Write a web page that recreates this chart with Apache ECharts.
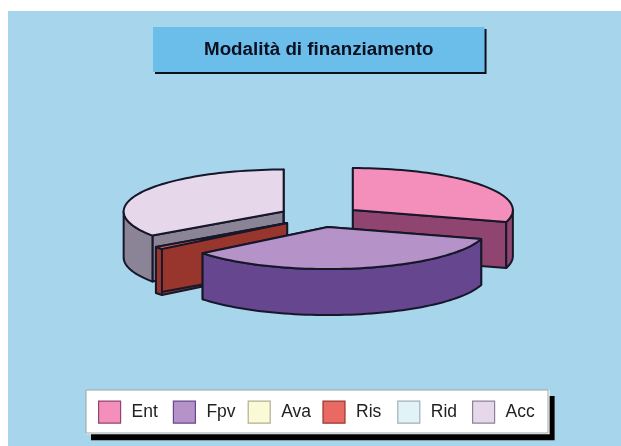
<!DOCTYPE html>
<html>
<head>
<meta charset="utf-8">
<style>
  html, body { margin: 0; padding: 0; background: #fff; }
  #chart { width: 621px; height: 446px; }
</style>
<script src="https://cdn.jsdelivr.net/npm/echarts@6/dist/echarts.min.js"></script>
</head>
<body>
<div id="chart"></div>
<script>
const categories = ['Ent', 'Fpv', 'Ava', 'Ris', 'Rid', 'Acc']
const shares = [29.6, 34.7, 0, 1.0, 0, 34.7]
const topColors = ['#f48fbb', '#b592c8', '#fafad6', '#e86a62', '#e2f3f7', '#e6d8ea']
const sideColors = ['#8f4570', '#66478f', '#b0b090', '#98362e', '#a0b0b8', '#8a8496']

// exploded pie seen from above, ECharts core has no 3d pie
const pie = { cx: 320, cy: 216.5, rx: 160, ry: 42, depth: 46, explode: 41 }
const edge = '#17172a'

const total = shares.reduce((a, b) => a + b, 0)
let running = 0
const spans = shares.map(v => {
  const start = running / total * 360
  running += v
  return [start, running / total * 360]
})

function rimPoint(deg, ox, oy, drop) {
  const a = deg * Math.PI / 180
  return [ox + pie.rx * Math.sin(a), oy - pie.ry * Math.cos(a) + drop]
}

function arcPoints(from, to, ox, oy, drop) {
  const pts = []
  const steps = Math.max(1, Math.ceil((to - from) / 2))
  for (let i = 0; i <= steps; i++) pts.push(rimPoint(from + (to - from) * i / steps, ox, oy, drop))
  return pts
}

function renderSlice(params, api) {
  const start = api.value(0)
  const end = api.value(1)
  const idx = api.value(2)
  if (end - start <= 0) return null

  const mid = (start + end) / 2 * Math.PI / 180
  const ox = pie.cx + pie.explode * Math.sin(mid)
  const oy = pie.cy - pie.explode * Math.cos(mid) * pie.ry / pie.rx
  const line = { fill: sideColors[idx], stroke: edge, lineWidth: 2, lineJoin: 'round' }
  const children = []

  // the two cut faces first, they end up behind the rim and the top
  ;[start, end].forEach(deg => {
    const rim = rimPoint(deg, ox, oy, 0)
    children.push({
      type: 'polygon',
      shape: { points: [[ox, oy], rim, [rim[0], rim[1] + pie.depth], [ox, oy + pie.depth]] },
      style: line
    })
  })

  // outer wall, only the front half of the ellipse shows
  const from = Math.max(start, 90)
  const to = Math.min(end, 270)
  if (to > from) {
    const upper = arcPoints(from, to, ox, oy, 0)
    const lower = arcPoints(from, to, ox, oy, pie.depth).reverse()
    children.push({ type: 'polygon', shape: { points: upper.concat(lower) }, style: line })
  }

  children.push({
    type: 'polygon',
    shape: { points: [[ox, oy]].concat(arcPoints(start, end, ox, oy, 0)) },
    style: { fill: topColors[idx], stroke: edge, lineWidth: 2, lineJoin: 'round' }
  })
  return { type: 'group', children }
}

const chart = echarts.init(document.getElementById('chart'), null, { renderer: 'canvas' })
chart.setOption({
  animation: false,
  title: {
    text: 'Modalità di finanziamento',
    left: 153,
    top: 27,
    padding: [13, 51, 13, 51],
    backgroundColor: '#6cbeea',
    shadowColor: '#10101c',
    shadowBlur: 0,
    shadowOffsetX: 2,
    shadowOffsetY: 2,
    textStyle: { fontFamily: 'Liberation Sans', fontSize: 18.8, fontWeight: 'bold', color: '#0c1020' }
  },
  legend: {
    data: categories.map((name, i) => ({
      name,
      itemStyle: { color: topColors[i], borderColor: sideColors[i], borderWidth: 1.2 }
    })),
    left: 86,
    top: 390,
    selectedMode: false,
    itemWidth: 22,
    itemHeight: 22,
    itemGap: 11.2,
    padding: [10.5, 14, 10.5, 12],
    backgroundColor: '#ffffff',
    shadowColor: '#000000',
    shadowBlur: 0,
    shadowOffsetX: 5,
    shadowOffsetY: 6,
    icon: 'rect',
    formatter: '{t|{name}}',
    textStyle: {
      rich: {
        // white token background so the fixed width counts in the legend layout
        t: { width: 30, padding: [0, 0, 0, 6], backgroundColor: '#ffffff', fontFamily: 'Liberation Sans', fontSize: 17.5, color: '#222' }
      }
    }
  },
  graphic: [{
    type: 'rect',
    z: -10,
    silent: true,
    shape: { x: 8, y: 11, width: 613, height: 435 },
    style: { fill: '#a6d5ec' }
  }, {
    type: 'rect',
    z: 10,
    silent: true,
    shape: { x: 86, y: 390, width: 462, height: 43 },
    style: { fill: 'none', stroke: '#9aa4aa', lineWidth: 1 }
  }],
  series: categories.map((name, i) => ({
    type: 'custom',
    name,
    coordinateSystem: 'none',
    silent: true,
    // back slices first, front slices paint over them
    z: Math.round(10 - 5 * Math.cos((spans[i][0] + spans[i][1]) / 2 * Math.PI / 180)),
    itemStyle: { color: topColors[i] },
    renderItem: renderSlice,
    data: [[spans[i][0], spans[i][1], i]]
  }))
})
</script>
</body>
</html>
